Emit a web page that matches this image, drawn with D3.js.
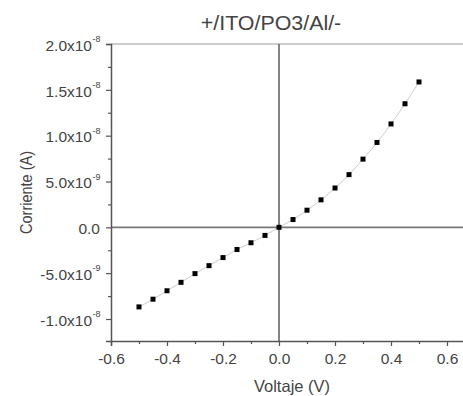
<!DOCTYPE html>
<html>
<head>
<meta charset="utf-8">
<script src="https://cdn.jsdelivr.net/npm/d3@7"></script>
<style>
  body { margin: 0; background: #fff; }
  text { font-family: "Liberation Sans", Arial, sans-serif; fill: #444; }
</style>
</head>
<body>
<div id="chart"></div>
<script>
// data
const voltage = [-0.5, -0.45, -0.4, -0.35, -0.3, -0.25, -0.2, -0.15, -0.1, -0.05,
  0, 0.05, 0.1, 0.15, 0.2, 0.25, 0.3, 0.35, 0.4, 0.45, 0.5];
const current = [-8.68e-9, -7.84e-9, -6.92e-9, -6.0e-9, -5.05e-9, -4.18e-9, -3.3e-9, -2.42e-9, -1.68e-9, -0.88e-9,
  0, 0.85e-9, 1.87e-9, 3.0e-9, 4.29e-9, 5.75e-9, 7.44e-9, 9.26e-9, 11.28e-9, 13.48e-9, 15.86e-9];
const xTicks = [-0.6, -0.4, -0.2, 0.0, 0.2, 0.4, 0.6];
const xMinor = [-0.5, -0.3, -0.1, 0.1, 0.3, 0.5];
const yTicks = [-1.0e-8, -5.0e-9, 0, 5.0e-9, 1.0e-8, 1.5e-8, 2.0e-8];
const yMinor = [-7.5e-9, -2.5e-9, 2.5e-9, 7.5e-9, 1.25e-8, 1.75e-8];
const title = "+/ITO/PO3/Al/-";
const xTitle = "Voltaje (V)";
const yTitle = "Corriente (A)";

const width = 463, height = 396;
const margin = { top: 44, right: -12, bottom: 55, left: 111 };

const svg = d3.select("#chart")
  .append("svg")
  .attr("width", width)
  .attr("height", height);

const x = d3.scaleLinear()
  .domain([-0.6, 0.7])
  .range([margin.left, width - margin.right]);

const y = d3.scaleLinear()
  .domain([-1.24e-8, 2.0e-8])
  .range([height - margin.bottom, margin.top]);

// frame top line
svg.append("line")
  .attr("x1", x(-0.6)).attr("x2", x(0.7))
  .attr("y1", y(2.0e-8)).attr("y2", y(2.0e-8))
  .attr("stroke", "#bbb").attr("stroke-width", 1.5);

// zero lines
svg.append("line")
  .attr("x1", x(0)).attr("x2", x(0))
  .attr("y1", y(2.0e-8)).attr("y2", y(-1.24e-8))
  .attr("stroke", "#777").attr("stroke-width", 1.8);
svg.append("line")
  .attr("x1", x(-0.6)).attr("x2", x(0.7))
  .attr("y1", y(0)).attr("y2", y(0))
  .attr("stroke", "#777").attr("stroke-width", 1.8);

// x axis
const xAxis = svg.append("g")
  .attr("transform", `translate(0,${y(-1.24e-8)})`)
  .call(d3.axisBottom(x).tickValues(xTicks).tickSize(5).tickPadding(7)
    .tickFormat(d => d.toFixed(1)));
svg.append("g")
  .attr("transform", `translate(0,${y(-1.24e-8)})`)
  .call(d3.axisBottom(x).tickValues(xMinor).tickSize(3).tickFormat(""))
  .select(".domain").remove();

// y axis
const fmtSci = d => {
  if (d === 0) return { m: "0.0", e: null };
  const e = Math.floor(Math.log10(Math.abs(d)) + 1e-9);
  return { m: (d / Math.pow(10, e)).toFixed(1) + "x10", e: e };
};
const yAxis = svg.append("g")
  .attr("transform", `translate(${x(-0.6)},0)`)
  .call(d3.axisLeft(y).tickValues(yTicks).tickSize(5).tickPadding(5).tickFormat(""));
svg.append("g")
  .attr("transform", `translate(${x(-0.6)},0)`)
  .call(d3.axisLeft(y).tickValues(yMinor).tickSize(3).tickFormat(""))
  .select(".domain").remove();

yAxis.selectAll(".tick").each(function (d) {
  const f = fmtSci(d);
  const t = d3.select(this).select("text")
    .attr("x", f.e === null ? -11 : -19)
    .attr("dy", "0.4em")
    .attr("font-size", 15.5);
  t.text(f.m);
  if (f.e !== null) {
    d3.select(this).append("text")
      .attr("x", -18.5)
      .attr("y", -2.5)
      .attr("text-anchor", "start")
      .attr("font-size", 9)
      .text(f.e);
  }
});

svg.selectAll(".domain").attr("stroke", "#555").attr("stroke-width", 1.5);
svg.selectAll(".tick line").attr("stroke", "#555").attr("stroke-width", 1.2);
xAxis.selectAll(".tick text").attr("font-size", 15.5).attr("fill", "#444");
yAxis.selectAll(".tick text").attr("fill", "#444");

// connecting curve
svg.append("path")
  .datum(voltage.map((v, i) => [v, current[i]]))
  .attr("fill", "none")
  .attr("stroke", "#ccc")
  .attr("stroke-width", 1)
  .attr("d", d3.line().x(d => x(d[0])).y(d => y(d[1])).curve(d3.curveCatmullRom));

// markers
svg.append("g")
  .selectAll("rect")
  .data(voltage.map((v, i) => [v, current[i]]))
  .join("rect")
  .attr("x", d => x(d[0]) - 2.5)
  .attr("y", d => y(d[1]) - 2.5)
  .attr("width", 5)
  .attr("height", 5)
  .attr("fill", "#000");

// titles
svg.append("text")
  .attr("transform", "translate(271,30) scale(1.07,1)")
  .attr("text-anchor", "middle")
  .attr("font-size", 20)
  .attr("fill", "#222")
  .text(title);

svg.append("text")
  .attr("x", 292).attr("y", 392)
  .attr("text-anchor", "middle")
  .attr("font-size", 16.5)
  .attr("fill", "#333")
  .text(xTitle);

svg.append("text")
  .attr("transform", `translate(32,${(y(2.0e-8) + y(-1.24e-8)) / 2}) scale(1.15,1) rotate(-90)`)
  .attr("text-anchor", "middle")
  .attr("font-size", 14.5)
  .attr("fill", "#333")
  .text(yTitle);
</script>
</body>
</html>
